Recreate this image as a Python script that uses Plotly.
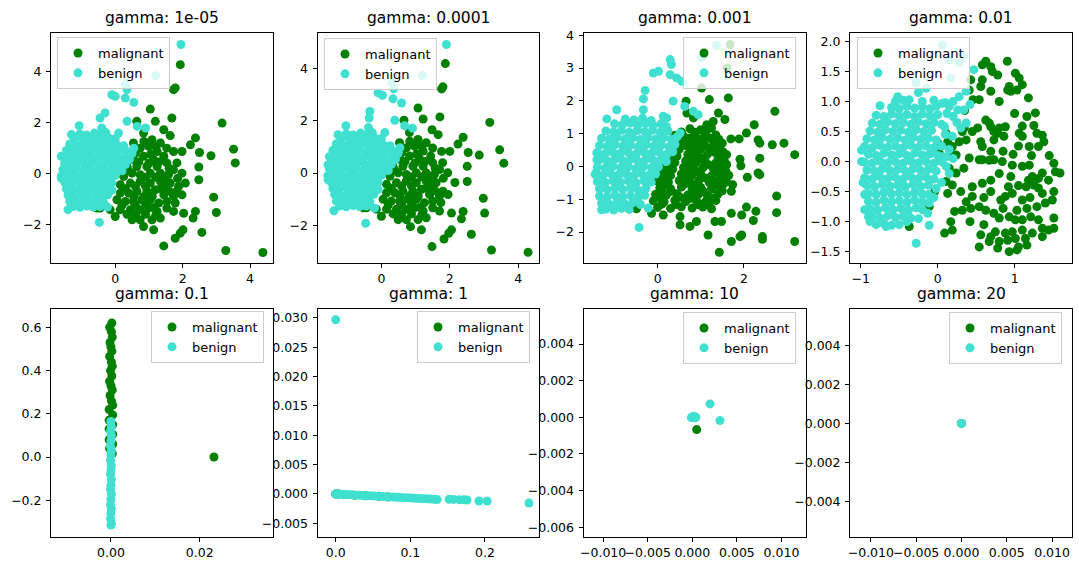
import plotly.graph_objects as go

# ---------------- data ----------------
GAMMAS = ["1e-05", "0.0001", "0.001", "0.01", "0.1", "1", "10", "20"]
CLASS_NAMES = ["malignant", "benign"]

P1_MAL = [
    (1.93, 4.26), (1.73, 3.28), (1.78, 3.35), (1.04, 2.52), (1.68, 2.17), (1.19, 2.04), (0.64, 2.04), (3.17, 1.97),
    (1.44, 1.71), (1.63, 1.48), (2.38, 1.39), (2.23, 1.12), (3.51, 0.95), (2.50, 0.82), (2.84, 0.69), (3.56, 0.41),
    (2.48, 0.25), (2.48, -0.25), (2.92, -0.93), (3.0, -1.53), (2.57, -2.31), (2.31, -1.75), (2.38, -1.49), (2.03, -1.56),
    (2.01, -2.21), (1.93, -2.34), (1.78, -2.54), (1.44, -2.84), (1.14, -2.21), (0.84, -2.08), (3.28, -3.02), (4.38, -3.10),
    (2.08, -0.38), (1.98, -0.84), (1.83, -0.71), (1.53, -0.51),
    (0.84, 1.58), (1.09, 1.32), (1.34, 1.19), (0.54, 1.19), (0.74, 0.99), (0.99, 1.06), (1.24, 0.86), (1.53, 0.99),
    (1.73, 0.86), (1.98, 0.86), (1.44, 0.67), (1.14, 0.54), (0.84, 0.67), (0.54, 0.54), (0.35, 0.27), (0.64, 0.27),
    (0.94, 0.27), (1.24, 0.27), (1.53, 0.41), (1.83, 0.41), (1.73, 0.14), (1.98, 0.01), (1.58, -0.05), (1.34, 0.01),
    (1.04, 0.01), (0.74, -0.05), (0.50, 0.01), (0.25, -0.12), (0.15, -0.44), (0.45, -0.38), (0.74, -0.31), (1.04, -0.38),
    (1.34, -0.31), (1.63, -0.38), (1.88, -0.51), (0.15, -0.77), (0.40, -0.77), (0.64, -0.71), (0.94, -0.71), (1.19, -0.64),
    (1.44, -0.84), (1.73, -0.90), (0.05, -1.03), (0.30, -1.10), (0.54, -1.10), (0.79, -1.03), (1.04, -1.03), (1.29, -1.16),
    (1.53, -1.10), (1.78, -1.16), (-0.45, -1.36), (-0.15, -1.42), (0.15, -1.42), (0.45, -1.42), (0.74, -1.42), (0.99, -1.36),
    (1.24, -1.49), (1.53, -1.36), (0.0, -1.69), (0.50, -1.82), (0.74, -1.82), (1.09, -1.82), (1.34, -1.75), (1.73, -1.49),
    (-0.54, -1.36), (0.2, 0.1), (0.5, 0.6), (0.7, 0.45), (1.0, 0.4), (1.3, 0.45), (0.9, -0.15), (1.2, -0.15),
    (1.5, -0.2), (0.3, -0.6), (0.6, -0.5), (0.9, -0.5), (1.1, -0.9), (1.35, -0.6), (0.2, -1.25), (0.6, -1.25),
    (0.9, -1.2), (1.15, -1.35), (0.35, -1.6), (0.6, -1.6), (0.9, -1.6), (1.2, -1.65), (0.55, -0.9), (0.85, -0.9),
    (1.6, -0.7), (0.4, 0.1), (0.6, 0.8), (1.05, 0.75), (1.2, 1.05), (0.85, 1.25), (1.6, 0.2), (1.85, -0.2), (0.3, 0.45),
]
P1_BEN = [
    (1.95, 5.05), (1.2, 3.83), (0.3, 3.48), (0.35, 3.28), (-0.1, 3.08), (0.0, 3.02), (0.3, 2.95), (0.55, 2.78),
    (-0.3, 2.37), (-0.45, 2.17), (0.35, 2.04), (-1.07, 1.87), (0.65, 1.84), (0.9, 1.78), (-1.3, 1.52), (-0.4, 1.78),
    (0.1, 1.58), (-1.6, 0.67), (-1.6, -0.18), (-1.4, -1.42), (-0.47, -1.92), (-0.23, -1.32), (0.55, 0.99),
    (-1.05, 1.55), (-0.85, 1.5), (-0.62, 1.58), (-0.45, 1.52), (-0.28, 1.6),
    (-1.2, 1.38), (-1.0, 1.42), (-0.8, 1.35), (-0.6, 1.4), (-0.4, 1.33), (-0.2, 1.4), (0.0, 1.36),
    (-1.35, 1.15), (-1.15, 1.1), (-0.95, 1.18), (-0.75, 1.12), (-0.55, 1.16), (-0.35, 1.1), (-0.15, 1.17), (0.05, 1.12), (0.25, 1.08),
    (-1.45, 0.9), (-1.25, 0.86), (-1.05, 0.93), (-0.85, 0.88), (-0.65, 0.92), (-0.45, 0.85), (-0.25, 0.9), (-0.05, 0.87),
    (0.15, 0.92), (0.35, 0.86), (0.5, 0.78),
    (-1.55, 0.65), (-1.35, 0.62), (-1.15, 0.68), (-0.95, 0.63), (-0.75, 0.66), (-0.55, 0.6), (-0.35, 0.67), (-0.15, 0.62),
    (0.05, 0.65), (0.25, 0.6), (0.42, 0.55),
    (-1.5, 0.4), (-1.3, 0.37), (-1.1, 0.43), (-0.9, 0.38), (-0.7, 0.42), (-0.5, 0.36), (-0.3, 0.41), (-0.1, 0.38), (0.1, 0.42), (0.3, 0.35),
    (-1.55, 0.15), (-1.35, 0.12), (-1.15, 0.18), (-0.95, 0.13), (-0.75, 0.16), (-0.55, 0.11), (-0.35, 0.17), (-0.15, 0.12), (0.05, 0.15), (0.2, 0.1),
    (-1.6, -0.1), (-1.4, -0.13), (-1.2, -0.07), (-1.0, -0.12), (-0.8, -0.08), (-0.6, -0.14), (-0.4, -0.09), (-0.2, -0.12), (0.0, -0.08),
    (-1.5, -0.35), (-1.3, -0.38), (-1.1, -0.32), (-0.9, -0.37), (-0.7, -0.33), (-0.5, -0.38), (-0.3, -0.34), (-0.1, -0.37),
    (-1.45, -0.6), (-1.25, -0.63), (-1.05, -0.57), (-0.85, -0.62), (-0.65, -0.58), (-0.45, -0.63), (-0.25, -0.59), (-0.1, -0.65),
    (-1.4, -0.85), (-1.2, -0.88), (-1.0, -0.82), (-0.8, -0.87), (-0.6, -0.83), (-0.4, -0.88), (-0.22, -0.84),
    (-1.35, -1.1), (-1.15, -1.13), (-0.95, -1.07), (-0.75, -1.12), (-0.55, -1.08), (-0.35, -1.13),
    (-1.25, -1.3), (-1.05, -1.33), (-0.85, -1.28), (-0.65, -1.32), (-0.45, -1.3),
]

P2_MAL = [
    (1.87, 4.19), (1.76, 3.22), (1.80, 3.30), (1.07, 2.49), (1.71, 2.15), (1.22, 2.07), (0.66, 2.02), (3.17, 1.94),
    (1.48, 1.66), (1.66, 1.47), (2.39, 1.37), (2.24, 1.11), (3.46, 0.89), (1.76, 0.83), (2.0, 0.83), (2.54, 0.79),
    (2.86, 0.69), (3.58, 0.38), (2.51, 0.26), (2.15, -0.36), (2.51, -0.32), (2.98, -0.96), (3.02, -1.53), (2.63, -2.34),
    (2.34, -1.75), (2.39, -1.47), (2.05, -1.53), (2.05, -2.17), (1.97, -2.30), (1.83, -2.52), (1.48, -2.81), (1.17, -2.17),
    (3.22, -2.94), (4.29, -3.03), (0.85, -2.05), (1.95, -0.82), (1.80, -0.69), (1.50, -0.50),
    (0.82, 1.55), (1.07, 1.29), (1.31, 1.16), (0.53, 1.16), (0.73, 0.97), (0.97, 1.03), (1.22, 0.84), (1.5, 0.96),
    (1.44, 0.65), (1.12, 0.53), (0.82, 0.65), (0.53, 0.53), (0.34, 0.26), (0.63, 0.26), (0.92, 0.26), (1.22, 0.26),
    (1.5, 0.4), (1.79, 0.4), (1.7, 0.14), (1.94, 0.01), (1.55, -0.05), (1.31, 0.01), (1.02, 0.01), (0.73, -0.05),
    (0.49, 0.01), (0.25, -0.12), (0.15, -0.43), (0.44, -0.37), (0.73, -0.3), (1.02, -0.37), (1.31, -0.3), (1.6, -0.37),
    (0.15, -0.75), (0.39, -0.75), (0.63, -0.69), (0.92, -0.69), (1.17, -0.62), (1.41, -0.82), (1.7, -0.88), (0.05, -1.0),
    (0.29, -1.07), (0.53, -1.07), (0.77, -1.0), (1.02, -1.0), (1.26, -1.13), (1.5, -1.07), (1.74, -1.13), (-0.44, -1.33),
    (-0.15, -1.38), (0.15, -1.38), (0.44, -1.38), (0.73, -1.38), (0.97, -1.33), (1.22, -1.45), (1.5, -1.33), (0.0, -1.65),
    (0.49, -1.78), (0.73, -1.78), (1.07, -1.78), (1.31, -1.71), (1.7, -1.45), (-0.53, -1.33), (0.2, 0.1), (0.49, 0.58),
    (0.69, 0.44), (0.98, 0.39), (1.27, 0.44), (0.88, -0.15), (1.18, -0.15), (1.47, -0.19), (0.29, -0.58), (0.59, -0.49),
    (0.88, -0.49), (1.08, -0.88), (1.32, -0.58), (0.2, -1.22), (0.59, -1.22), (0.88, -1.17), (1.13, -1.32), (0.34, -1.56),
    (0.59, -1.56), (0.88, -1.56), (1.18, -1.61), (0.54, -0.88), (0.83, -0.88), (1.57, -0.68), (0.39, 0.1), (0.59, 0.78),
    (1.03, 0.73), (1.18, 1.02), (0.83, 1.22), (1.57, 0.2), (1.81, -0.2), (0.29, 0.44),
]
P2_BEN = [
    (1.90, 4.92), (1.20, 3.73), (0.32, 3.45), (0.36, 3.22), (-0.10, 3.07), (0.03, 2.98), (0.34, 2.84), (0.59, 2.68),
    (-0.34, 2.36), (-0.36, 2.11), (0.39, 2.02), (-1.04, 1.81), (0.68, 1.81), (0.91, 1.72), (-1.27, 1.47), (-0.38, 1.74),
    (0.1, 1.55), (-1.56, 0.32), (-1.56, -0.26), (-1.39, -1.44), (-0.46, -1.92), (-0.20, -1.34), (0.54, 0.97),
    (-1.03, 1.5), (-0.83, 1.46), (-0.61, 1.53), (-0.44, 1.47), (-0.27, 1.55),
    (-1.18, 1.34), (-0.98, 1.38), (-0.78, 1.31), (-0.59, 1.36), (-0.39, 1.29), (-0.2, 1.36), (0.0, 1.32),
    (-1.32, 1.12), (-1.13, 1.07), (-0.93, 1.14), (-0.74, 1.09), (-0.54, 1.13), (-0.34, 1.07), (-0.15, 1.13), (0.05, 1.09), (0.25, 1.05),
    (-1.42, 0.87), (-1.23, 0.83), (-1.03, 0.9), (-0.83, 0.85), (-0.64, 0.89), (-0.44, 0.82), (-0.25, 0.87), (-0.05, 0.84),
    (0.15, 0.89), (0.34, 0.83), (0.49, 0.76),
    (-1.52, 0.63), (-1.32, 0.6), (-1.13, 0.66), (-0.93, 0.61), (-0.74, 0.64), (-0.54, 0.58), (-0.34, 0.65), (-0.15, 0.6),
    (0.05, 0.63), (0.25, 0.58), (0.41, 0.53),
    (-1.47, 0.39), (-1.27, 0.36), (-1.08, 0.42), (-0.88, 0.37), (-0.69, 0.41), (-0.49, 0.35), (-0.29, 0.4), (-0.1, 0.37), (0.1, 0.41), (0.29, 0.34),
    (-1.52, 0.15), (-1.32, 0.12), (-1.13, 0.17), (-0.93, 0.13), (-0.74, 0.16), (-0.54, 0.11), (-0.34, 0.16), (-0.15, 0.12), (0.05, 0.15), (0.2, 0.1),
    (-1.57, -0.1), (-1.37, -0.13), (-1.18, -0.07), (-0.98, -0.12), (-0.78, -0.08), (-0.59, -0.14), (-0.39, -0.09), (-0.2, -0.12), (0.0, -0.08),
    (-1.47, -0.34), (-1.27, -0.37), (-1.08, -0.31), (-0.88, -0.36), (-0.69, -0.32), (-0.49, -0.37), (-0.29, -0.33), (-0.1, -0.36),
    (-1.42, -0.58), (-1.23, -0.61), (-1.03, -0.55), (-0.83, -0.6), (-0.64, -0.56), (-0.44, -0.61), (-0.25, -0.57), (-0.1, -0.63),
    (-1.37, -0.82), (-1.18, -0.85), (-0.98, -0.8), (-0.78, -0.84), (-0.59, -0.81), (-0.39, -0.85), (-0.22, -0.81),
    (-1.32, -1.07), (-1.13, -1.1), (-0.93, -1.04), (-0.74, -1.09), (-0.54, -1.05), (-0.34, -1.1),
    (-1.23, -1.26), (-1.03, -1.29), (-0.83, -1.24), (-0.64, -1.28), (-0.44, -1.26),
]

P3_MAL = [
    (1.68, 3.72), (1.61, 3.0), (1.02, 2.39), (0.66, 1.99), (1.20, 2.04), (1.64, 2.09), (0.68, 1.63), (0.83, 1.48),
    (1.41, 1.63), (1.56, 1.43), (2.72, 1.68), (2.24, 1.27), (1.14, 1.27), (1.29, 1.37), (2.06, 1.02), (1.70, 0.84),
    (1.89, 0.84), (2.33, 0.81), (2.37, 0.71), (2.66, 0.66), (2.93, 0.71), (3.18, 0.36), (1.91, 0.22), (1.93, 0.02),
    (2.37, 0.25), (2.33, -0.20), (2.37, -0.25), (2.08, -0.33), (2.76, -0.90), (2.76, -1.41), (2.28, -1.37), (2.22, -1.65),
    (2.06, -1.24), (1.95, -1.48), (1.71, -1.43), (1.71, -2.29), (1.91, -2.14), (1.95, -2.09), (2.43, -2.14), (2.43, -2.22),
    (3.18, -2.29), (1.43, -2.62), (1.17, -2.09), (1.48, -1.68), (1.33, -1.68), (0.90, -1.68), (0.75, -1.83), (0.52, -1.78),
    (0.52, -1.53), (0.13, -1.48), (-0.14, -1.43), (-0.49, -1.29), (1.71, -0.76), (1.74, -0.56),
    (0.75, 1.15), (1.0, 1.12), (1.25, 1.17),
    (0.4, 0.95), (0.6, 0.92), (0.85, 0.97), (1.1, 0.93), (1.35, 0.96),
    (0.35, 0.75), (0.55, 0.72), (0.8, 0.77), (1.05, 0.73), (1.3, 0.76), (1.5, 0.71),
    (0.3, 0.55), (0.5, 0.52), (0.75, 0.57), (1.0, 0.53), (1.2, 0.56), (1.45, 0.51),
    (0.25, 0.35), (0.45, 0.32), (0.7, 0.37), (0.95, 0.33), (1.15, 0.36), (1.4, 0.31), (1.6, 0.36),
    (0.2, 0.15), (0.4, 0.12), (0.65, 0.17), (0.9, 0.13), (1.1, 0.16), (1.35, 0.11), (1.55, 0.16),
    (0.15, -0.05), (0.35, -0.08), (0.6, -0.03), (0.85, -0.07), (1.05, -0.04), (1.3, -0.09), (1.5, -0.04),
    (0.1, -0.25), (0.3, -0.28), (0.55, -0.23), (0.8, -0.27), (1.0, -0.24), (1.25, -0.29), (1.45, -0.24), (1.65, -0.27),
    (0.0, -0.45), (0.25, -0.48), (0.5, -0.43), (0.75, -0.47), (0.95, -0.44), (1.2, -0.49), (1.4, -0.44), (1.6, -0.47),
    (0.05, -0.65), (0.3, -0.68), (0.55, -0.63), (0.8, -0.67), (1.0, -0.64), (1.25, -0.69), (1.45, -0.64),
    (-0.05, -0.85), (0.2, -0.88), (0.45, -0.83), (0.7, -0.87), (0.95, -0.84), (1.15, -0.89), (1.4, -0.84),
    (-0.1, -1.05), (0.15, -1.08), (0.4, -1.03), (0.65, -1.07), (0.9, -1.04), (1.1, -1.09), (1.35, -1.04),
    (0.0, -1.25), (0.3, -1.28), (0.55, -1.23), (0.8, -1.27), (1.05, -1.24), (1.25, -1.29),
    (0.55, 1.05), (0.88, 1.04), (1.12, 1.06),
    (0.48, 0.85), (0.72, 0.86), (0.97, 0.84), (1.22, 0.86), (1.42, 0.83),
    (0.42, 0.65), (0.65, 0.64), (0.88, 0.66), (1.1, 0.63), (1.33, 0.65),
    (0.38, 0.45), (0.83, 0.46), (1.28, 0.45), (1.52, 0.44),
    (0.3, 0.25), (0.78, 0.26), (1.02, 0.23), (1.48, 0.24),
    (0.25, 0.05), (0.73, 0.06), (1.18, 0.05), (1.42, 0.04), (1.6, 0.06),
    (0.2, -0.15), (0.68, -0.14), (0.92, -0.17), (1.38, -0.16), (1.58, -0.14),
    (0.12, -0.35), (0.63, -0.34), (1.1, -0.35), (1.55, -0.34),
    (0.15, -0.55), (0.62, -0.54), (0.85, -0.57), (1.32, -0.56), (1.52, -0.54),
    (0.1, -0.75), (0.32, -0.76), (0.82, -0.77), (1.05, -0.75), (1.5, -0.74),
    (0.05, -0.95), (0.52, -0.94), (0.78, -0.97), (1.25, -0.96),
    (0.1, -1.15), (0.42, -1.16), (0.95, -1.17), (1.18, -1.15),
]
P3_BEN = [
    (1.37, 3.69), (1.02, 3.31), (0.29, 3.26), (0.32, 3.11), (0.02, 2.90), (-0.10, 2.85), (0.29, 2.80), (0.44, 2.70),
    (0.56, 2.60), (-0.29, 2.32), (-0.33, 2.06), (0.36, 1.99), (-0.95, 1.73), (-1.18, 1.45), (0.63, 1.83), (0.83, 1.68),
    (0.94, 1.58), (0.13, 1.53), (0.21, 1.48), (-0.33, 1.73), (-1.41, 0.41), (-1.41, 0.20), (-1.43, -0.20), (-1.30, -1.32),
    (-0.43, -1.86), (-0.22, -1.27), (0.52, 1.02),
    (-0.75, 1.45), (-0.55, 1.42), (-0.35, 1.47), (-0.15, 1.4),
    (-1.0, 1.3), (-0.82, 1.27), (-0.64, 1.32), (-0.46, 1.26), (-0.28, 1.31), (-0.1, 1.25), (0.08, 1.3), (0.2, 1.22),
    (-1.2, 1.08), (-1.02, 1.05), (-0.84, 1.1), (-0.66, 1.04), (-0.48, 1.09), (-0.3, 1.06), (-0.12, 1.1), (0.06, 1.04), (0.24, 1.08),
    (-1.3, 0.86), (-1.12, 0.83), (-0.94, 0.88), (-0.76, 0.84), (-0.58, 0.87), (-0.4, 0.82), (-0.22, 0.88), (-0.04, 0.84),
    (0.14, 0.87), (0.32, 0.83), (0.45, 0.9),
    (-1.35, 0.64), (-1.17, 0.61), (-0.99, 0.66), (-0.81, 0.62), (-0.63, 0.65), (-0.45, 0.6), (-0.27, 0.66), (-0.09, 0.62),
    (0.09, 0.65), (0.27, 0.6), (0.4, 0.67),
    (-1.4, 0.42), (-1.22, 0.39), (-1.04, 0.44), (-0.86, 0.4), (-0.68, 0.43), (-0.5, 0.38), (-0.32, 0.44), (-0.14, 0.4),
    (0.04, 0.43), (0.22, 0.38), (0.35, 0.45),
    (-1.35, 0.2), (-1.17, 0.17), (-0.99, 0.22), (-0.81, 0.18), (-0.63, 0.21), (-0.45, 0.16), (-0.27, 0.22), (-0.09, 0.18), (0.09, 0.21), (0.2, 0.15),
    (-1.4, -0.02), (-1.22, -0.05), (-1.04, 0.0), (-0.86, -0.04), (-0.68, -0.01), (-0.5, -0.06), (-0.32, 0.0), (-0.14, -0.04), (0.02, -0.01),
    (-1.45, -0.24), (-1.27, -0.27), (-1.09, -0.22), (-0.91, -0.26), (-0.73, -0.23), (-0.55, -0.28), (-0.37, -0.22), (-0.19, -0.26), (-0.05, -0.23),
    (-1.4, -0.46), (-1.22, -0.49), (-1.04, -0.44), (-0.86, -0.48), (-0.68, -0.45), (-0.5, -0.5), (-0.32, -0.44), (-0.15, -0.48),
    (-1.35, -0.68), (-1.17, -0.71), (-0.99, -0.66), (-0.81, -0.7), (-0.63, -0.67), (-0.45, -0.72), (-0.27, -0.66),
    (-1.35, -0.9), (-1.17, -0.93), (-0.99, -0.88), (-0.81, -0.92), (-0.63, -0.89), (-0.45, -0.94), (-0.3, -0.88),
    (-1.3, -1.12), (-1.12, -1.15), (-0.94, -1.1), (-0.76, -1.14), (-0.58, -1.11), (-0.4, -1.16),
    (-1.2, -1.3), (-1.02, -1.33), (-0.84, -1.28), (-0.66, -1.31),
]

P4_MAL = [
    (0.905, 1.67), (0.625, 1.67), (0.69, 1.58), (0.58, 1.61), (0.71, 1.50), (0.78, 1.44), (1.01, 1.47), (1.06, 1.39),
    (0.93, 1.25), (0.95, 1.17), (0.91, 1.19), (1.10, 1.28), (1.03, 1.19), (0.58, 1.36), (0.56, 1.25), (0.43, 1.36),
    (0.41, 1.19), (0.46, 1.03), (0.54, 1.03), (1.18, 1.06), (0.69, 1.17), (1.27, 0.81), (1.16, 0.75), (1.10, 0.59),
    (0.88, 0.58), (0.80, 0.56), (0.69, 0.58), (0.73, 0.50), (0.67, 0.64), (0.86, 0.42), (0.78, 0.47), (0.625, 0.69),
    (0.52, 0.56), (0.45, 0.50), (0.345, 0.56), (0.32, 0.50), (0.28, 0.33), (0.19, 0.25), (0.17, 0.14), (0.24, 0.11),
    (0.37, 0.36), (0.58, 0.25), (0.56, 0.33), (1.10, 0.42), (1.19, 0.25), (1.06, 0.47), (1.36, 0.44), (1.29, 0.47),
    (1.38, 0.33), (1.31, 0.25), (1.05, 0.26), (0.85, 0.17), (0.69, 0.17), (0.73, 0.36), (0.58, 0.03), (0.67, 0.02),
    (0.73, 0.03), (0.54, 0.03), (0.97, -0.06), (1.10, -0.08), (1.19, -0.06), (1.23, -0.25), (1.36, -0.19), (1.51, -0.03),
    (1.59, -0.19), (1.53, -0.17), (1.44, -0.31), (1.31, -0.28), (1.18, -0.31), (1.15, -0.42), (1.31, -0.44), (1.25, -0.39),
    (1.36, -0.53), (1.51, -0.50), (1.49, -0.64), (1.40, -0.69), (1.29, -0.75), (1.16, -0.78), (1.10, -0.64), (0.97, -0.53),
    (0.92, -0.42), (0.88, -0.58), (0.82, -0.64), (0.69, -0.50), (0.69, -0.31), (0.58, -0.36), (0.45, -0.42), (0.45, -0.58),
    (0.37, -0.67), (0.32, -0.81), (0.43, -0.78), (0.54, -0.75), (0.625, -0.81), (0.73, -0.86), (0.80, -0.94), (0.93, -0.92),
    (1.03, -0.81), (1.01, -0.97), (1.10, -0.97), (1.21, -0.92), (1.31, -0.97), (1.51, -0.94), (1.51, -1.11), (1.44, -1.14),
    (1.36, -1.11), (1.23, -1.19), (1.10, -1.14), (0.97, -1.17), (0.88, -1.19), (0.75, -1.17), (0.69, -1.25), (0.56, -1.22),
    (0.67, -1.33), (0.80, -1.33), (0.91, -1.31), (1.01, -1.28), (1.14, -1.28), (1.36, -1.25), (1.16, -1.39), (1.05, -1.42),
    (0.93, -1.50), (1.03, -1.47), (0.78, -1.44), (0.54, -1.42), (0.22, -0.83), (0.17, -1.0), (0.19, -1.14), (0.09, -1.19),
    (-0.37, -1.08), (-0.11, -0.75), (-0.04, -0.50), (0.11, -0.33), (0.19, -0.39), (0.30, -0.50), (0.13, -0.53), (0.24, -0.19),
    (0.15, -0.11), (0.04, 0.03), (0.02, 0.14), (0.0, 0.31), (0.11, 0.47), (0.13, 0.33), (0.41, 0.06), (0.34, -0.11),
    (0.84, 0.0), (0.98, 0.12), (1.22, 0.1), (1.45, 0.1), (0.95, -0.25), (1.05, -0.4), (0.8, -0.2), (0.6, -0.6),
    (1.2, -0.6), (0.85, -0.78), (0.6, -1.05), (0.42, -1.0), (1.25, 0.6), (1.0, 0.8), (0.8, 1.0), (0.35, 0.85),
]
P4_BEN = [
    (0.06, 1.94), (0.15, 1.69), (0.28, 1.64), (0.17, 1.39), (0.34, 1.75), (0.47, 1.53), (-0.28, 1.31), (-0.15, 1.22),
    (0.37, 1.17), (0.28, 1.08), (-0.75, 0.93), (-0.52, 1.08), (-0.37, 1.03), (-0.02, 0.92), (0.06, 0.97), (0.15, 0.92),
    (0.26, 0.86), (0.34, 0.86), (0.09, 0.58), (0.19, 0.42), (0.37, 0.64), (0.30, 0.56), (-0.99, 0.19), (-0.99, 0.0),
    (-0.88, -1.0), (-0.67, -1.08), (-0.28, -1.36), (-0.11, -1.06), (-0.13, -0.86), (-0.11, -0.69), (0.11, -0.08),
    (0.06, 0.08), (0.11, 0.08),
    (-0.55, 1.0), (-0.45, 1.02), (-0.2, 1.0), (-0.05, 1.02), (0.1, 0.98), (0.2, 1.0), (-0.25, 1.15), (0.42, 0.95),
    (0.2, 0.75), (0.12, 0.8), (0.25, 0.65), (0.1, 0.45), (0.15, 0.2), (0.2, 0.05), (0.15, -0.2), (0.05, -0.35),
    (-0.02, -0.45), (-0.05, -0.6), (-0.12, -0.55), (-0.2, -0.8), (-0.25, -0.95), (-0.95, -0.55), (-0.97, -0.35),
    (-0.95, -0.8), (-0.9, -0.92), (-0.5, -1.05), (-0.4, -1.0),
    (-0.6, 0.9), (-0.5, 0.88), (-0.4, 0.92), (-0.3, 0.89), (-0.2, 0.91), (-0.1, 0.88),
    (-0.8, 0.77), (-0.7, 0.75), (-0.6, 0.79), (-0.5, 0.76), (-0.4, 0.78), (-0.3, 0.75), (-0.2, 0.79), (-0.1, 0.76), (0.0, 0.78),
    (-0.85, 0.64), (-0.75, 0.62), (-0.65, 0.66), (-0.55, 0.63), (-0.45, 0.65), (-0.35, 0.62), (-0.25, 0.66), (-0.15, 0.63),
    (-0.05, 0.65), (0.05, 0.62),
    (-0.88, 0.51), (-0.78, 0.49), (-0.68, 0.53), (-0.58, 0.5), (-0.48, 0.52), (-0.38, 0.49), (-0.28, 0.53), (-0.18, 0.5), (-0.08, 0.52),
    (-0.92, 0.38), (-0.82, 0.36), (-0.72, 0.4), (-0.62, 0.37), (-0.52, 0.39), (-0.42, 0.36), (-0.32, 0.4), (-0.22, 0.37),
    (-0.12, 0.39), (-0.02, 0.36),
    (-0.95, 0.25), (-0.85, 0.23), (-0.75, 0.27), (-0.65, 0.24), (-0.55, 0.26), (-0.45, 0.23), (-0.35, 0.27), (-0.25, 0.24),
    (-0.15, 0.26), (-0.05, 0.23), (0.05, 0.26),
    (-0.9, 0.12), (-0.8, 0.1), (-0.7, 0.14), (-0.6, 0.11), (-0.5, 0.13), (-0.4, 0.1), (-0.3, 0.14), (-0.2, 0.11), (-0.1, 0.13), (0.0, 0.1),
    (-0.95, -0.01), (-0.85, -0.03), (-0.75, 0.01), (-0.65, -0.02), (-0.55, 0.0), (-0.45, -0.03), (-0.35, 0.01), (-0.25, -0.02),
    (-0.15, 0.0), (-0.05, -0.03), (0.05, 0.0),
    (-0.92, -0.14), (-0.82, -0.16), (-0.72, -0.12), (-0.62, -0.15), (-0.52, -0.13), (-0.42, -0.16), (-0.32, -0.12), (-0.22, -0.15),
    (-0.12, -0.13), (-0.02, -0.16),
    (-0.95, -0.27), (-0.85, -0.29), (-0.75, -0.25), (-0.65, -0.28), (-0.55, -0.26), (-0.45, -0.29), (-0.35, -0.25), (-0.25, -0.28),
    (-0.15, -0.26), (-0.05, -0.29),
    (-0.92, -0.4), (-0.82, -0.42), (-0.72, -0.38), (-0.62, -0.41), (-0.52, -0.39), (-0.42, -0.42), (-0.32, -0.38), (-0.22, -0.41), (-0.12, -0.39),
    (-0.9, -0.53), (-0.8, -0.55), (-0.7, -0.51), (-0.6, -0.54), (-0.5, -0.52), (-0.4, -0.55), (-0.3, -0.51), (-0.2, -0.54),
    (-0.9, -0.66), (-0.8, -0.68), (-0.7, -0.64), (-0.6, -0.67), (-0.5, -0.65), (-0.4, -0.68), (-0.3, -0.64), (-0.2, -0.67),
    (-0.88, -0.79), (-0.78, -0.81), (-0.68, -0.77), (-0.58, -0.8), (-0.48, -0.78), (-0.38, -0.81), (-0.28, -0.77),
    (-0.85, -0.92), (-0.75, -0.94), (-0.65, -0.9), (-0.55, -0.93), (-0.45, -0.91), (-0.35, -0.94),
    (-0.8, -1.05), (-0.7, -1.03), (-0.6, -1.06),
]

P5_MAL = [
    (0.0002, 0.62), (-0.0003, 0.60), (0.0001, 0.58), (0.0003, 0.555), (-0.0002, 0.53), (0.0, 0.51), (0.0002, 0.49),
    (-0.0003, 0.465), (0.0001, 0.44), (0.0003, 0.42), (-0.0001, 0.40), (0.0002, 0.375), (-0.0003, 0.35), (0.0, 0.33),
    (0.0003, 0.31), (-0.0002, 0.285), (0.0001, 0.26), (0.0004, 0.24), (-0.0004, 0.22), (0.0004, 0.195), (-0.0004, 0.17),
    (0.0004, 0.15), (-0.0004, 0.13), (0.0004, 0.105), (-0.0004, 0.08), (0.0004, 0.06), (-0.0003, 0.04), (0.0003, 0.015),
    (0.0232, 0.0),
]
P5_BEN = [
    (0.0, 0.165), (0.0001, 0.14), (-0.0001, 0.12), (0.0001, 0.10), (0.0, 0.075), (-0.0001, 0.05), (0.0001, 0.03),
    (0.0, 0.01), (-0.0001, -0.015), (0.0001, -0.04), (0.0, -0.06), (-0.0001, -0.08), (0.0001, -0.105), (0.0, -0.13),
    (-0.0001, -0.15), (0.0001, -0.17), (0.0, -0.195), (-0.0001, -0.22), (0.0001, -0.24), (0.0, -0.26),
    (-0.0001, -0.285), (0.0001, -0.305), (0.0, -0.315),
]

P6_MAL = [(0.0, 0.0), (0.004, -0.00002), (0.012, -0.0001), (0.025, -0.0002), (0.04, -0.0003), (0.058, -0.0004), (0.07, -0.0005)]
P6_BEN = [
    (0.0, 0.0297), (0.0, 0.0), (0.003, 0.0), (0.006, -0.00003), (0.01, -0.00006), (0.014, -0.0001), (0.018, -0.00012),
    (0.022, -0.00015), (0.027, -0.0002), (0.032, -0.00022), (0.037, -0.00025), (0.042, -0.0003), (0.047, -0.00032),
    (0.052, -0.00036), (0.057, -0.0004), (0.062, -0.00043), (0.067, -0.00046), (0.072, -0.0005), (0.077, -0.00053),
    (0.082, -0.00056), (0.087, -0.0006), (0.092, -0.00063), (0.097, -0.00066), (0.102, -0.0007), (0.107, -0.00073),
    (0.112, -0.00076), (0.117, -0.0008), (0.122, -0.00083), (0.127, -0.00086), (0.132, -0.0009), (0.136, -0.00095),
    (0.152, -0.0009), (0.158, -0.00092), (0.166, -0.001), (0.172, -0.001), (0.176, -0.00102), (0.192, -0.0012),
    (0.203, -0.0012), (0.259, -0.00155),
]

P7_MAL = [(0.0, 0.0), (0.00049, -0.00067)]
P7_BEN = [(0.0, 0.0), (0.0001, 0.00005), (0.0003, -0.00003), (0.0002, 0.00006), (-0.0001, -0.00002), (0.0004, 0.0),
          (0.00198, 0.00073), (0.0031, -0.00018)]

P8_MAL = [(0.0, 0.0)]
P8_BEN = [(0.0, 0.0)]

MAL_SETS = [P1_MAL, P2_MAL, P3_MAL, P4_MAL, P5_MAL, P6_MAL, P7_MAL, P8_MAL]
BEN_SETS = [P1_BEN, P2_BEN, P3_BEN, P4_BEN, P5_BEN, P6_BEN, P7_BEN, P8_BEN]

# axis ranges / ticks
X_RANGES = [[-1.905, 4.68], [-1.87, 4.61], [-1.72, 3.43], [-1.14, 1.746],
            [-0.0135, 0.0365], [-0.0244, 0.2724], [-0.0122, 0.01269], [-0.0123, 0.0122]]
Y_RANGES = [[-3.49, 5.5], [-3.42, 5.36], [-2.93, 4.07], [-1.68, 2.14],
            [-0.37, 0.685], [-0.00733, 0.03153], [-0.00653, 0.00591], [-0.00584, 0.00588]]
X_DTICK = [2, 2, 2, 1, 0.02, 0.1, 0.005, 0.005]
Y_DTICK = [2, 2, 1, 0.5, 0.2, 0.005, 0.002, 0.002]
X_FMT = ["d", "d", "d", "d", ".2f", ".1f", ".3f", ".3f"]
Y_FMT = ["d", "d", "d", ".1f", ".1f", ".3f", ".3f", ".3f"]

# ---------------- layout (pixels of a 1079 x 564 canvas) ----------------
W, H = 1079, 564
COL_PX = [(51, 273), (317.5, 539), (583.5, 805.5), (850, 1072)]
ROW_PX = [(33, 262.5), (309, 537)]
LEG_PX = [(57, 37), (324, 38), (683, 37), (857, 37), (151, 311), (417, 311), (683, 312), (949, 312)]

GREEN = "#008000"
CYAN = "#40E0D0"
FONT = "DejaVu Sans"

fig = go.Figure()
layout = dict(
    width=W, height=H, margin=dict(l=0, r=0, t=0, b=0, autoexpand=False),
    paper_bgcolor="white", plot_bgcolor="white",
    font=dict(family=FONT, color="black", size=12.5),
    annotations=[],
)

for i in range(8):
    r, c = divmod(i, 4)
    sfx = "" if i == 0 else str(i + 1)
    x0, x1 = COL_PX[c]
    yt, yb = ROW_PX[r]
    leg = "legend" if i == 0 else "legend%d" % (i + 1)
    for name, pts, col in ((CLASS_NAMES[0], MAL_SETS[i], GREEN), (CLASS_NAMES[1], BEN_SETS[i], CYAN)):
        xs = [p[0] for p in pts]
        ys = [p[1] for p in pts]
        fig.add_trace(go.Scatter(
            x=xs, y=ys, mode="markers", name=name,
            marker=dict(color=col, size=9, line=dict(width=0)),
            xaxis="x" + sfx, yaxis="y" + sfx, legend=leg, showlegend=True,
        ))
    axstyle = dict(showline=True, mirror=True, linecolor="black", linewidth=1,
                   ticks="outside", ticklen=4, tickcolor="black", tickwidth=1,
                   showgrid=False, zeroline=False, tick0=0, automargin=False, tickangle=0,
                   tickfont=dict(family=FONT, size=12.5, color="black"))
    layout["xaxis" + sfx] = dict(axstyle, domain=[x0 / W, x1 / W], range=X_RANGES[i],
                                 dtick=X_DTICK[i], tickformat=X_FMT[i], anchor="y" + sfx)
    layout["yaxis" + sfx] = dict(axstyle, domain=[1 - yb / H, 1 - yt / H], range=Y_RANGES[i],
                                 dtick=Y_DTICK[i], tickformat=Y_FMT[i], anchor="x" + sfx,
                                 ticklabelstandoff=2)
    lx, ly = LEG_PX[i]
    layout[leg] = dict(x=lx / W, y=1 - ly / H, xanchor="left", yanchor="top",
                       xref="paper", yref="paper",
                       bgcolor="rgba(255,255,255,0.8)", bordercolor="#cccccc", borderwidth=1,
                       font=dict(family=FONT, size=13, color="black"), tracegroupgap=0)
    layout["annotations"].append(dict(
        text="gamma: " + GAMMAS[i], xref="paper", yref="paper",
        x=(x0 + x1) / 2 / W, y=1 - yt / H, xanchor="center", yanchor="bottom", yshift=4,
        showarrow=False, font=dict(family=FONT, size=15.5, color="black")))

fig.update_layout(**layout)
fig.write_html("out.html")
